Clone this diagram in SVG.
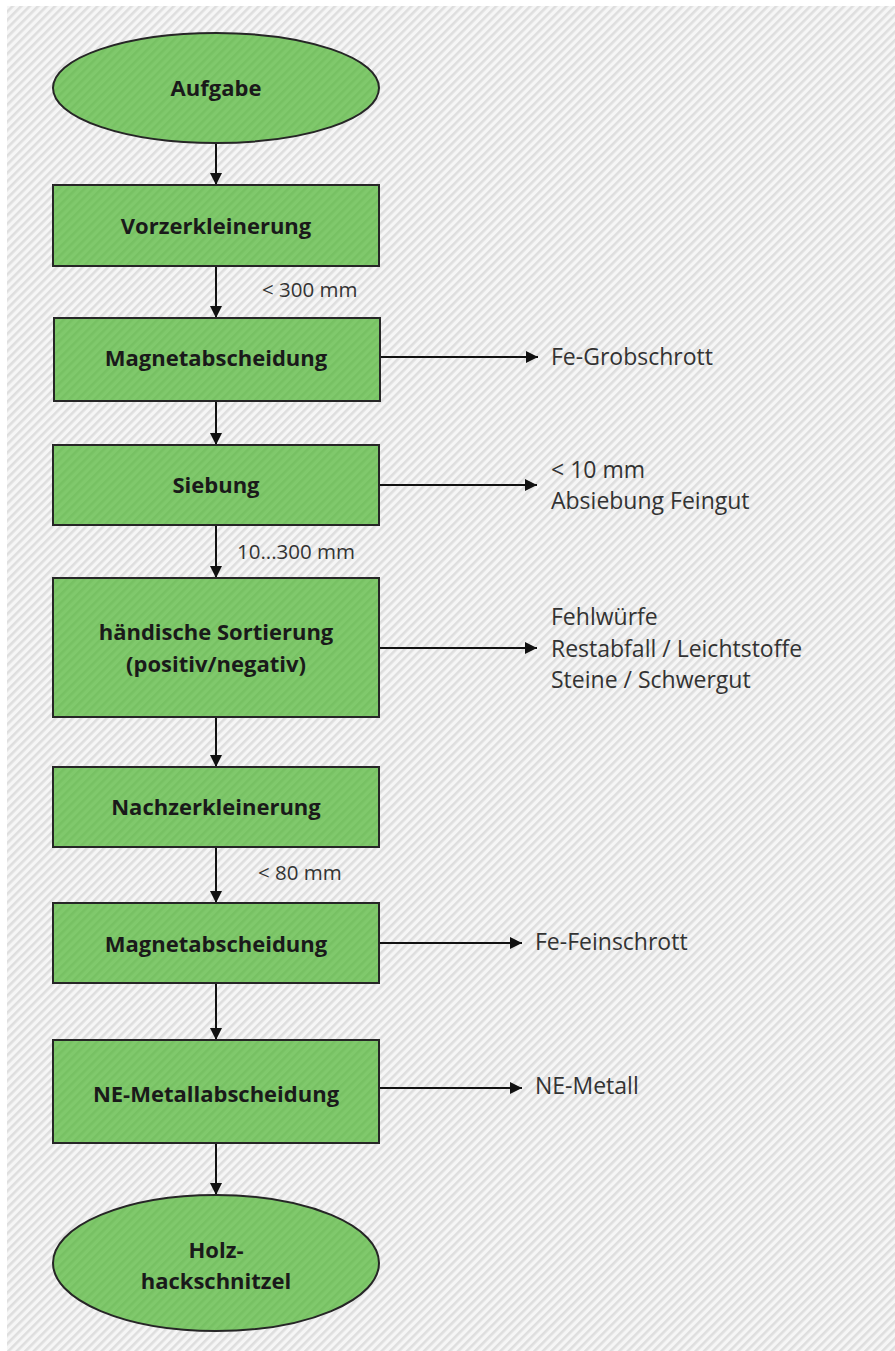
<svg xmlns="http://www.w3.org/2000/svg" width="895" height="1351" viewBox="0 0 895 1351">
  <defs>
    <pattern id="hatch" patternUnits="userSpaceOnUse" width="6" height="6" patternTransform="rotate(45)">
      <rect width="6" height="6" fill="#f6f6f6"/>
      <rect width="2.6" height="6" fill="#dedede"/>
    </pattern>
    <pattern id="greenHatch" patternUnits="userSpaceOnUse" width="6" height="6" patternTransform="rotate(45)">
      <rect width="6" height="6" fill="#80c96c"/>
      <rect width="2.6" height="6" fill="#77c163"/>
    </pattern>
    <marker id="arrow" viewBox="0 0 12 12" refX="12" refY="6" markerWidth="12" markerHeight="12" markerUnits="userSpaceOnUse" orient="auto">
      <path d="M0,0 L12,6 L0,12 Z" fill="#111"/>
    </marker>
  </defs>
  <style>
    .node { fill: url(#greenHatch); stroke: #262626; stroke-width: 2; }
    .lbl { font-family: "Open Sans", "Liberation Sans", sans-serif; font-weight: bold; font-size: 22px; fill: #1a1a1a; text-anchor: middle; }
    .side { font-family: "Open Sans", "Liberation Sans", sans-serif; font-size: 23px; fill: #333; }
    .dim { font-family: "Open Sans", "Liberation Sans", sans-serif; font-size: 20.5px; fill: #333; }
    .conn { stroke: #111; stroke-width: 2; fill: none; marker-end: url(#arrow); }
  </style>
  <rect width="895" height="1351" fill="#ffffff"/>
  <rect x="7" y="6" width="888" height="1345" fill="url(#hatch)"/>

  <g id="connectors">
    <line class="conn" x1="216" y1="143" x2="216" y2="185"/>
    <line class="conn" x1="216" y1="266" x2="216" y2="318"/>
    <line class="conn" x1="216" y1="401" x2="216" y2="445"/>
    <line class="conn" x1="216" y1="525" x2="216" y2="578"/>
    <line class="conn" x1="216" y1="717" x2="216" y2="767"/>
    <line class="conn" x1="216" y1="847" x2="216" y2="903"/>
    <line class="conn" x1="216" y1="983" x2="216" y2="1040"/>
    <line class="conn" x1="216" y1="1143" x2="216" y2="1195"/>
    <line class="conn" x1="380" y1="357" x2="538" y2="357"/>
    <line class="conn" x1="379" y1="485" x2="537" y2="485"/>
    <line class="conn" x1="379" y1="648" x2="537" y2="648"/>
    <line class="conn" x1="379" y1="943" x2="522" y2="943"/>
    <line class="conn" x1="379" y1="1088" x2="522" y2="1088"/>
    <text class="dim" x="262" y="297">&lt; 300 mm</text>
    <text class="dim" x="237" y="559">10...300 mm</text>
    <text class="dim" x="258" y="880">&lt; 80 mm</text>
  </g>

  <g id="n-aufgabe">
    <ellipse class="node" cx="216" cy="88" rx="163" ry="55"/>
    <text class="lbl" x="216" y="96">Aufgabe</text>
  </g>
  <g id="n-vorzerkleinerung">
    <rect class="node" x="53" y="185" width="326" height="81"/>
    <text class="lbl" x="216" y="234">Vorzerkleinerung</text>
  </g>
  <g id="n-magnet1">
    <rect class="node" x="54" y="318" width="326" height="83"/>
    <text class="lbl" x="216" y="366">Magnetabscheidung</text>
  </g>
  <g id="n-fe-grob">
    <text class="side" x="551" y="365">Fe-Grobschrott</text>
  </g>
  <g id="n-siebung">
    <rect class="node" x="53" y="445" width="326" height="80"/>
    <text class="lbl" x="216" y="493">Siebung</text>
  </g>
  <g id="n-feingut">
    <text class="side" x="551" y="478">&lt; 10 mm</text>
    <text class="side" x="551" y="509">Absiebung Feingut</text>
  </g>
  <g id="n-sortierung">
    <rect class="node" x="53" y="578" width="326" height="139"/>
    <text class="lbl" x="216" y="640">händische Sortierung</text>
    <text class="lbl" x="216" y="672">(positiv/negativ)</text>
  </g>
  <g id="n-fehlwuerfe">
    <text class="side" x="551" y="625">Fehlwürfe</text>
    <text class="side" x="551" y="657">Restabfall / Leichtstoffe</text>
    <text class="side" x="551" y="688">Steine / Schwergut</text>
  </g>
  <g id="n-nachzerkleinerung">
    <rect class="node" x="53" y="767" width="326" height="80"/>
    <text class="lbl" x="216" y="815">Nachzerkleinerung</text>
  </g>
  <g id="n-magnet2">
    <rect class="node" x="53" y="903" width="326" height="80"/>
    <text class="lbl" x="216" y="952">Magnetabscheidung</text>
  </g>
  <g id="n-fe-fein">
    <text class="side" x="535" y="950">Fe-Feinschrott</text>
  </g>
  <g id="n-ne">
    <rect class="node" x="53" y="1040" width="326" height="103"/>
    <text class="lbl" x="216" y="1102">NE-Metallabscheidung</text>
  </g>
  <g id="n-ne-metall">
    <text class="side" x="535" y="1094">NE-Metall</text>
  </g>
  <g id="n-holz">
    <ellipse class="node" cx="216" cy="1263" rx="163" ry="68"/>
    <text class="lbl" x="216" y="1258">Holz-</text>
    <text class="lbl" x="216" y="1289">hackschnitzel</text>
  </g>
</svg>
